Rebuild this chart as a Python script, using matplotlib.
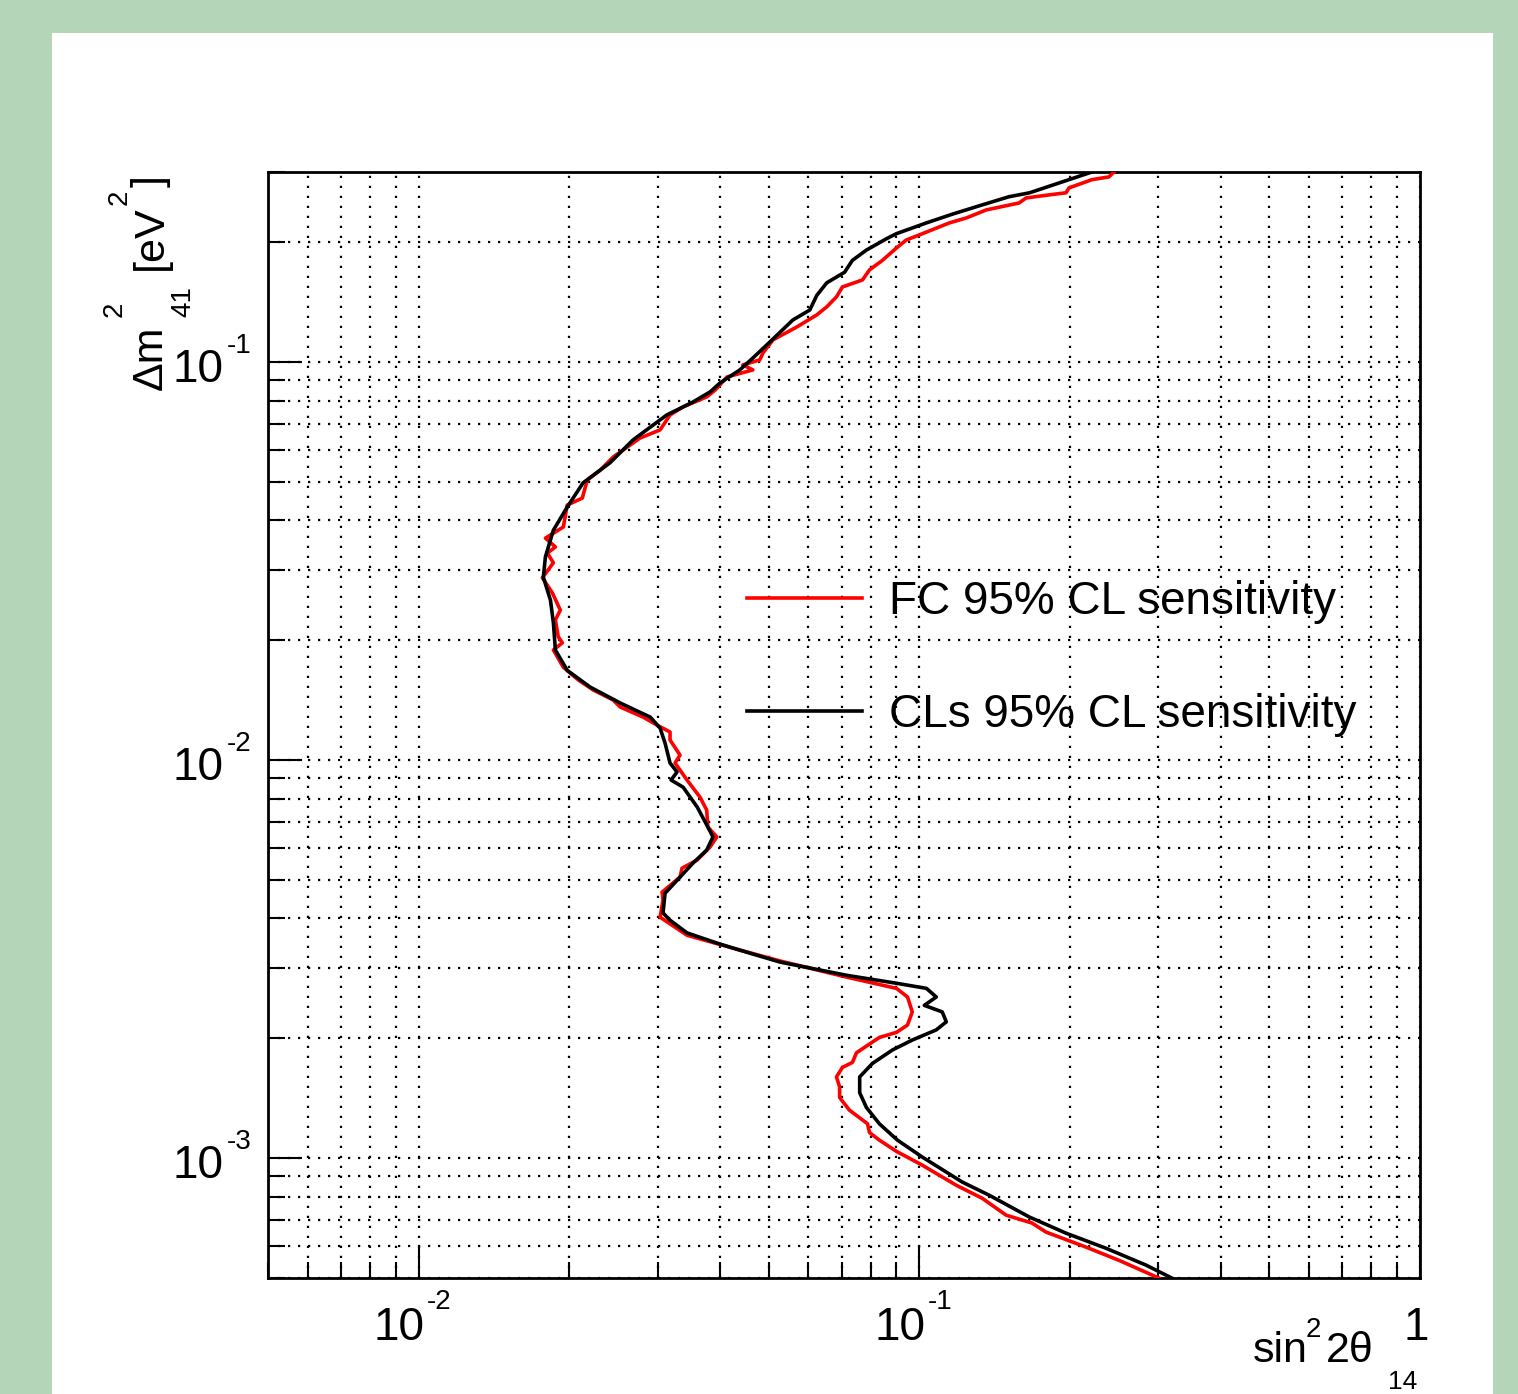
import numpy as np
import matplotlib
matplotlib.use("Agg")
import matplotlib.pyplot as plt
from matplotlib.ticker import LogLocator, NullFormatter
from matplotlib.patches import Rectangle

plt.rcParams["font.family"] = ["Liberation Sans", "DejaVu Sans"]

# CLs 95% CL sensitivity contour (black)
cls_sin2 = [0.2211, 0.199, 0.166, 0.151, 0.1335, 0.1163, 0.1033, 0.0900, 0.0860, 0.0784,
            0.0735, 0.0709, 0.0653, 0.0624, 0.0604, 0.0559, 0.0503, 0.0465, 0.0438, 0.0400,
            0.0382, 0.0353, 0.0313, 0.0268, 0.0241, 0.0213, 0.0198, 0.01858, 0.01791, 0.01774,
            0.01833, 0.01858, 0.01875, 0.0198, 0.0220, 0.02526, 0.0290, 0.03035, 0.03105, 0.03177,
            0.03281, 0.03192, 0.03373, 0.0360, 0.0378, 0.0387, 0.0376, 0.0353, 0.03326, 0.03105,
            0.03076, 0.03177, 0.03435, 0.0394, 0.0438, 0.0526, 0.0715, 0.0900, 0.1033, 0.1081,
            0.1023, 0.1111, 0.1132, 0.1081, 0.0968, 0.0884, 0.0806, 0.0760, 0.0760, 0.0784,
            0.0832, 0.0904, 0.1014, 0.1218, 0.1379, 0.166, 0.1963, 0.2358, 0.2833, 0.3192]
cls_dm2 = [0.300, 0.287, 0.266, 0.260, 0.248, 0.235, 0.2235, 0.210, 0.204, 0.191,
           0.180, 0.168, 0.158, 0.147, 0.135, 0.1275, 0.1123, 0.1023, 0.0955, 0.0886,
           0.0841, 0.0793, 0.0736, 0.0637, 0.0558, 0.0497, 0.0432, 0.0378, 0.0324, 0.0288,
           0.0252, 0.0221, 0.0189, 0.0168, 0.01525, 0.01391, 0.01282, 0.01203, 0.01103, 0.00983,
           0.00933, 0.00891, 0.00855, 0.00762, 0.00679, 0.00641, 0.00594, 0.00551, 0.00508, 0.00463,
           0.00413, 0.00396, 0.00368, 0.00347, 0.00333, 0.00311, 0.00288, 0.00275, 0.00267, 0.00254,
           0.00242, 0.00233, 0.00220, 0.00210, 0.00198, 0.00187, 0.00173, 0.00160, 0.00146, 0.00134,
           0.00122, 0.00111, 0.001006, 0.000871, 0.000807, 0.000711, 0.000648, 0.000594, 0.000539, 0.000500]

# FC 95% CL sensitivity contour (red)
fc_sin2 = [0.2446, 0.2391, 0.2211, 0.199, 0.1963, 0.1816, 0.1634, 0.1582, 0.1360, 0.1241,
           0.1148, 0.1000, 0.0942, 0.0900, 0.0844, 0.0795, 0.0770, 0.0702, 0.0683, 0.0653,
           0.0624, 0.0569, 0.0510, 0.0487, 0.0480, 0.0444, 0.0465, 0.0413, 0.0391, 0.0376,
           0.03373, 0.03177, 0.03035, 0.02768, 0.02446, 0.02305, 0.02171, 0.02122, 0.0198, 0.01945,
           0.01791, 0.01875, 0.01807, 0.01858, 0.01766, 0.01849, 0.01918, 0.01875, 0.0190, 0.01936,
           0.01858, 0.01945, 0.02083, 0.02231, 0.02446, 0.02526, 0.02807, 0.02993, 0.03177, 0.03177,
           0.03326, 0.03251, 0.03435, 0.03646, 0.0376, 0.0378, 0.0394, 0.0382, 0.0360, 0.03357,
           0.03326, 0.03063, 0.03076, 0.03035, 0.03435, 0.0424, 0.0526, 0.0715, 0.0900, 0.0947,
           0.0968, 0.0947, 0.0900, 0.0832, 0.0749, 0.0735, 0.0702, 0.0683, 0.0693, 0.0693,
           0.0725, 0.0788, 0.0795, 0.0832, 0.0900, 0.1014, 0.1185, 0.1335, 0.1491, 0.1679,
           0.1791, 0.2151, 0.2503, 0.3007]
fc_dm2 = [0.300, 0.2916, 0.287, 0.2736, 0.266, 0.2628, 0.2582, 0.2508, 0.2409, 0.2300,
          0.2235, 0.2085, 0.2025, 0.1933, 0.180, 0.1703, 0.1607, 0.1543, 0.1457, 0.1375,
          0.1313, 0.1224, 0.1136, 0.1053, 0.1012, 0.0983, 0.0955, 0.0917, 0.0850, 0.0817,
          0.0771, 0.0736, 0.0675, 0.0644, 0.0577, 0.0535, 0.0505, 0.0455, 0.0437, 0.0385,
          0.0361, 0.0343, 0.0331, 0.0313, 0.0287, 0.0263, 0.0238, 0.0225, 0.0204, 0.0197,
          0.0189, 0.0171, 0.0159, 0.0150, 0.01415, 0.01359, 0.01282, 0.01224, 0.01176, 0.01123,
          0.01029, 0.00983, 0.00891, 0.00807, 0.00749, 0.00679, 0.00641, 0.00605, 0.00561, 0.00535,
          0.00508, 0.00466, 0.00445, 0.00403, 0.00363, 0.00337, 0.00313, 0.00285, 0.00267, 0.00254,
          0.00233, 0.00216, 0.00207, 0.00201, 0.00184, 0.00174, 0.00169, 0.00160, 0.00151, 0.00142,
          0.00132, 0.00122, 0.00116, 0.00111, 0.00104, 0.000960, 0.000855, 0.000793, 0.000719, 0.000687,
          0.000652, 0.000598, 0.000554, 0.000500]

x_major = [1e-2, 1e-1, 1.0]
y_major = [1e-3, 1e-2, 1e-1]
legend_labels = ["FC 95% CL sensitivity", "CLs 95% CL sensitivity"]

W, H = 1518, 1394
fig = plt.figure(figsize=(W / 100, H / 100), dpi=100, facecolor="#b5d5b9")
# white pad on the green canvas
fig.patches.append(Rectangle((52 / W, 0), (1493 - 52) / W, (H - 33) / H,
                             transform=fig.transFigure, facecolor="white",
                             edgecolor="none", zorder=-10))

ax = fig.add_axes([268 / W, 1 - 1278 / H, (1420 - 268) / W, (1278 - 172) / H])
ax.set_zorder(5)
ax.set_xscale("log")
ax.set_yscale("log")
ax.set_xlim(0.005, 1.0)
ax.set_ylim(5e-4, 0.3)

ax.plot(fc_sin2, fc_dm2, color="#ff0000", lw=2.6, label=legend_labels[0], zorder=3)
ax.plot(cls_sin2, cls_dm2, color="black", lw=2.6, label=legend_labels[1], zorder=3)

for spine in ax.spines.values():
    spine.set_linewidth(2.0)

for axis in (ax.xaxis, ax.yaxis):
    axis.set_major_locator(LogLocator(base=10, numticks=10))
    axis.set_minor_locator(LogLocator(base=10, subs=np.arange(2, 10), numticks=20))
    axis.set_minor_formatter(NullFormatter())

ax.tick_params(axis="x", which="major", direction="in", length=22, width=1.5,
               top=False, labelbottom=False)
ax.tick_params(axis="x", which="minor", direction="in", length=11.5, width=1.5, top=False)
ax.tick_params(axis="y", which="major", direction="in", length=24.5, width=1.5,
               right=False, labelleft=False)
ax.tick_params(axis="y", which="minor", direction="in", length=12, width=1.5, right=False)

ax.grid(which="both", color="black", linestyle=(0, (1, 3.5)), linewidth=1.6, zorder=1)
ax.set_axisbelow(True)

# ROOT style tick labels: "10" with a raised exponent
for v in x_major:
    if v == 1.0:
        ax.annotate("1", xy=(v, 0), xycoords=ax.get_xaxis_transform(), xytext=(-4, -62),
                    textcoords="offset pixels", ha="center", va="baseline", fontsize=33,
                    annotation_clip=False)
        continue
    e = int(round(np.log10(v)))
    ax.annotate("10", xy=(v, 0), xycoords=ax.get_xaxis_transform(), xytext=(6, -62),
                textcoords="offset pixels", ha="right", va="baseline", fontsize=33,
                annotation_clip=False)
    ax.annotate(str(e), xy=(v, 0), xycoords=ax.get_xaxis_transform(), xytext=(8, -31),
                textcoords="offset pixels", ha="left", va="baseline", fontsize=20,
                annotation_clip=False)

for v in y_major:
    e = int(round(np.log10(v)))
    ax.annotate("10", xy=(0, v), xycoords=ax.get_yaxis_transform(), xytext=(-45, -20),
                textcoords="offset pixels", ha="right", va="baseline", fontsize=33,
                annotation_clip=False)
    ax.annotate(str(e), xy=(0, v), xycoords=ax.get_yaxis_transform(), xytext=(-41, 9),
                textcoords="offset pixels", ha="left", va="baseline", fontsize=20,
                annotation_clip=False)


def ftext(x, y, s, size, **kw):
    fig.text(x / W, 1 - y / H, s, fontsize=size, ha="left", va="baseline", **kw)


# x title: sin^2 2theta_14
ftext(1253, 1362, "sin", 31)
ftext(1306, 1337, "2", 20)
ftext(1326, 1362, "2\u03b8", 31)
ftext(1388, 1389, "14", 19)

# y title: Delta m^2_41 [eV^2]
rot = dict(rotation=90, rotation_mode="anchor")
ftext(162, 390, "\u0394m", 31, **rot)
ftext(122, 317, "2", 20, **rot)
ftext(190, 317, "41", 20, **rot)
ftext(162, 270, "[eV", 31, **rot)
ftext(127, 205, "2", 20, **rot)
ftext(162, 187, "]", 31, **rot)

ax.legend(loc="upper left", bbox_to_anchor=(747 / W, 1 - 580 / H),
          bbox_transform=fig.transFigure, frameon=False, fontsize=33,
          handlelength=2.5, handletextpad=0.6, labelspacing=1.5,
          borderpad=0, borderaxespad=0)

fig.savefig("out.png", dpi=100, facecolor=fig.get_facecolor())
